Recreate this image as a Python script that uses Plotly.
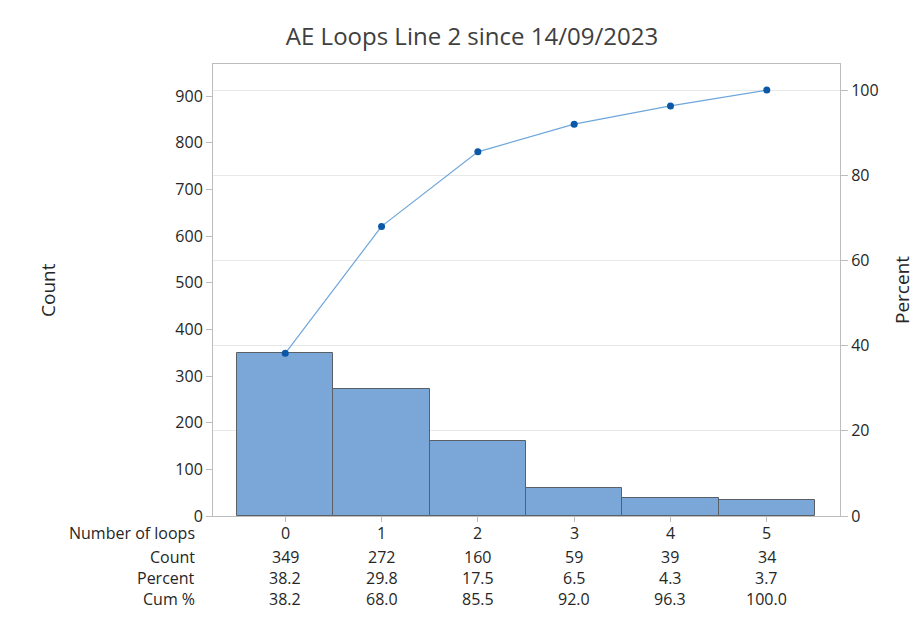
import plotly.graph_objects as go

categories = ["0", "1", "2", "3", "4", "5"]
counts = [349, 272, 160, 59, 39, 34]
percents = ["38.2", "29.8", "17.5", "6.5", "4.3", "3.7"]
cum_pct = [38.2, 68.0, 85.5, 92.0, 96.3, 100.0]
cum_labels = ["38.2", "68.0", "85.5", "92.0", "96.3", "100.0"]
left_ticks = [0, 100, 200, 300, 400, 500, 600, 700, 800, 900]
right_ticks = [0, 20, 40, 60, 80, 100]
title = "AE Loops Line 2 since 14/09/2023"

total = sum(counts)
ymax = 969
xpos = list(range(len(categories)))

FONT = "Open Sans"
TXT = "#262626"
W, H = 907, 602          # page has an 8px body margin
PL, PR, PT, PB = 205, 832, 56, 508   # plot area in figure coords
PW, PH = PR - PL, PB - PT

fig = go.Figure()
fig.add_trace(go.Bar(
    x=xpos, y=counts, width=1.0,
    marker=dict(color="#7BA6D8", line=dict(color="#5a5f66", width=1)),
    showlegend=False, hoverinfo="y",
))
fig.add_trace(go.Scatter(
    x=xpos, y=cum_pct, yaxis="y2", mode="lines+markers",
    line=dict(color="#6FA6DA", width=1.2),
    marker=dict(color="#0B57A8", size=7),
    showlegend=False,
))

ann = []
rows = [("Number of loops", categories), ("Count", [str(c) for c in counts]),
        ("Percent", percents), ("Cum %", cum_labels)]
row_py = [533, 557, 578, 599]   # page coords
for (label, vals), py in zip(rows, row_py):
    yp = (PB + 8 - py) / PH
    ann.append(dict(text=label, xref="paper", yref="paper", x=(197 - 213) / PW, y=yp,
                    xanchor="right", yanchor="middle", showarrow=False,
                    font=dict(family=FONT, size=16, color=TXT)))
    for xi, v in zip(xpos, vals):
        ann.append(dict(text=v, xref="x", yref="paper", x=xi, y=yp,
                        xanchor="center", yanchor="middle", showarrow=False,
                        font=dict(family=FONT, size=16, color=TXT)))
ann.append(dict(text="Count", xref="paper", yref="paper", x=(48 - 213) / PW, y=0.5,
                textangle=-90, xanchor="center", yanchor="middle", showarrow=False,
                font=dict(family=FONT, size=19, color=TXT)))
ann.append(dict(text="Percent", xref="paper", yref="paper", x=(902 - 213) / PW, y=0.5,
                textangle=-90, xanchor="center", yanchor="middle", showarrow=False,
                font=dict(family=FONT, size=19, color=TXT)))

axline = "#BDBDBD"
fig.update_layout(
    width=W, height=H,
    margin=dict(l=PL, r=W - PR, t=PT, b=H - PB),
    paper_bgcolor="white", plot_bgcolor="white",
    bargap=0,
    title=dict(text=title, x=464 / W, xanchor="center", y=1 - 29 / H, yanchor="middle",
               font=dict(family=FONT, size=24, color="#404040")),
    xaxis=dict(range=[-0.75, 5.76], tickvals=xpos, showticklabels=False,
               ticks="outside", ticklen=5, tickcolor=axline,
               showline=True, linecolor=axline, mirror=True, showgrid=False, zeroline=False),
    yaxis=dict(range=[0, ymax], tickvals=left_ticks, ticks="outside", ticklen=6,
               tickcolor=axline, showline=True, linecolor=axline, showgrid=False,
               zeroline=False, tickfont=dict(family=FONT, size=16, color=TXT)),
    yaxis2=dict(range=[0, ymax / total * 100], tickvals=right_ticks, overlaying="y",
                side="right", ticks="outside", ticklen=7, tickcolor=axline,
                showline=True, linecolor=axline, showgrid=True, gridcolor="#E8E8E8",
                zeroline=False, tickfont=dict(family=FONT, size=16, color=TXT)),
    annotations=ann,
    font=dict(family=FONT, color=TXT),
)
fig.write_html("out.html")
